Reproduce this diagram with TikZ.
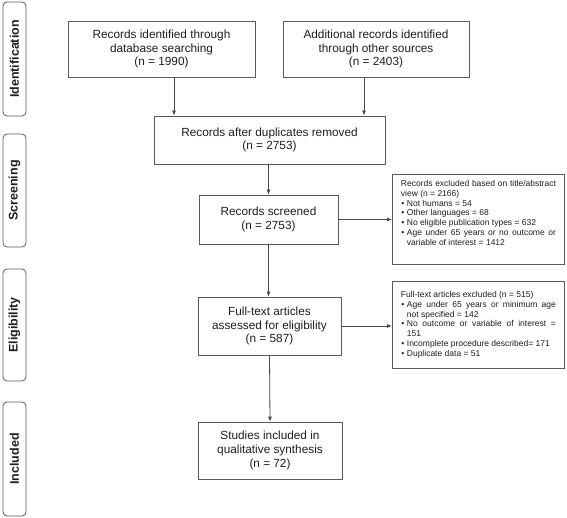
\documentclass[tikz,border=0pt]{standalone}
\usepackage{fontspec}
\setmainfont{Liberation Sans}
\usetikzlibrary{arrows.meta}

\definecolor{boxline}{HTML}{5A5A5A}
\definecolor{boxtext}{HTML}{1E1E1E}

\hyphenpenalty=10000
\exhyphenpenalty=10000

% small text of the side boxes: spaces may stretch, never shrink
\newcommand{\notefont}{\fontsize{8.5}{9.8}\selectfont
    \spaceskip=\fontdimen2\font plus 3\fontdimen3\font\relax}
% bullet line with hanging indent
\newcommand{\bul}{\par\hangindent=6pt\hangafter=0\noindent\llap{\textbullet\hspace{2.5pt}}}

\begin{document}
\begin{tikzpicture}[x=1pt, y=-1pt,
    stage/.style={draw=boxline, rounded corners=4pt, rotate=90, minimum height=23pt,
        inner sep=0pt, text=boxtext, line width=0.8pt,
        font=\fontsize{12.5}{14}\selectfont\bfseries},
    box/.style={draw=boxline, align=center, inner sep=0pt, text=boxtext, line width=0.8pt,
        font=\fontsize{11.8}{13.8}\selectfont},
    notebox/.style={draw=boxline, anchor=north west, align=justify, text width=155pt,
        inner xsep=8.5pt, text=boxtext, line width=0.8pt, font=\notefont},
    arr/.style={draw=boxline!80!black, line width=0.8pt, -{Latex[length=5pt,width=4pt]}}]
    \useasboundingbox (0,0) rectangle (567,518);

    % Stage labels
    \node[stage, minimum width=114pt] (lid) at (14.5,59) {Identification};
    \node[stage, minimum width=113pt] (lsc) at (14.5,190.5) {Screening};
    \node[stage, minimum width=112pt] (lel) at (14.5,325) {Eligibility};
    \node[stage, minimum width=114pt] (lin) at (14.5,459) {Included};

    % Identification
    \node[box, minimum width=187pt, minimum height=56pt] (rec1) at (161.5,49)
        {Records identified through\\database searching\\(n = 1990)};
    \node[box, minimum width=186pt, minimum height=56pt] (rec2) at (376,49)
        {Additional records identified\\through other sources\\(n = 2403)};

    % Screening
    \node[box, minimum width=231pt, minimum height=48pt] (dup) at (269.5,140)
        {Records after duplicates removed\\(n = 2753)};
    \node[box, minimum width=139pt, minimum height=49pt] (scr) at (268.5,219.5)
        {Records screened\\(n = 2753)};
    \node[notebox, inner ysep=6pt] (exc1) at (392,174)
        {\notefont Records excluded based on title/abstract view (n = 2166)
        \bul Not humans = 54
        \bul Other languages = 68
        \bul No eligible publication types = 632
        \bul Age under 65 years or no outcome or variable of interest = 1412
        \par\vspace{13pt}};

    % Eligibility
    \node[box, minimum width=143pt, minimum height=58pt] (full) at (269.5,326)
        {Full-text articles\\assessed for eligibility\\(n = 587)};
    \node[notebox, inner ysep=10pt] (exc2) at (392,281)
        {\notefont Full-text articles excluded (n = 515)
        \bul Age under 65 years or minimum age not specified = 142
        \bul No outcome or variable of interest = 151
        \bul Incomplete procedure described= 171
        \bul Duplicate data = 51\par};

    % Included
    \node[box, minimum width=144pt, minimum height=57pt] (incl) at (270,450.5)
        {Studies included in\\qualitative synthesis\\(n = 72)};

    % Arrows
    \draw[arr] ([xshift=12.5pt]rec1.south) -- ([xshift=12.5pt]rec1.south |- dup.north);
    \draw[arr] ([xshift=-12pt]rec2.south) -- ([xshift=-12pt]rec2.south |- dup.north);
    \draw[arr] (dup.south -| scr.north) -- (scr.north);
    \draw[arr] (scr.east) -- (scr.east -| exc1.west);
    \draw[arr] (scr.south) -- (scr.south |- full.north);
    \draw[arr] (full.east) -- (full.east -| exc2.west);
    \draw[arr] (full.south) -- (incl.north);
\end{tikzpicture}
\end{document}
